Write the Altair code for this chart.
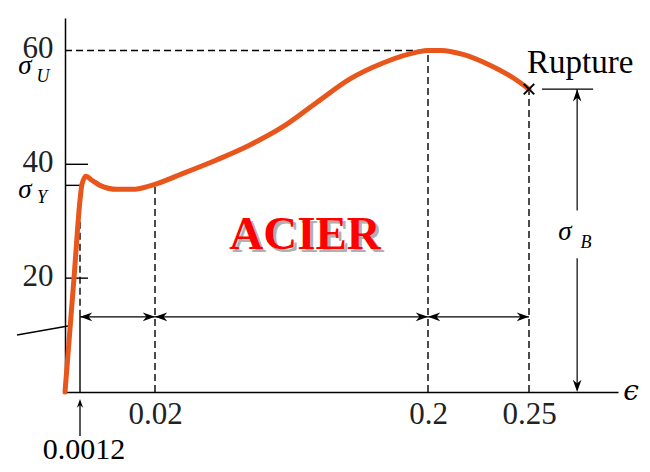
import altair as alt
import pandas as pd

# ---- data ----
strain = [0, 0.00072, 0.0012, 0.0017, 0.0027, 0.0042, 0.0062, 0.0105, 0.0145, 0.0187,
          0.0385, 0.0609, 0.0826, 0.1044, 0.1268, 0.1486, 0.1703, 0.1927, 0.2, 0.2065,
          0.2173, 0.2307, 0.2421, 0.25]
stress = [0, 20, 33.7, 36.5, 37.9, 37.2, 36.3, 35.6, 35.6, 36.2,
          38.4, 40.8, 43.4, 46.6, 50.9, 55.0, 57.8, 59.7, 60.0, 60.0,
          59.3, 57.4, 55.2, 53.2]

eps_yield = 0.0012
eps_hard = 0.02
eps_ult = 0.2
eps_rupt = 0.25
sig_yield = 36.3
sig_ult = 60.0
sig_rupt = 53.2
y_tick_values = [20, 40, 60]
x_tick_values = [0.02, 0.2, 0.25]
dim_level = 13.2
sigB_x = 0.2738

# piecewise (non-uniform) strain axis as drawn in the figure
x_dom = [0, 0.0012, 0.02, 0.2, 0.25, 0.294]
x_rng = [0, 15, 90, 363, 464, 553]
xs = alt.Scale(domain=x_dom, range=x_rng)
ys = alt.Scale(domain=[0, 65.7], nice=False, zero=False)

SERIF = "Liberation Serif"
ORANGE = "#E8561C"

curve = alt.Chart(pd.DataFrame({"e": strain, "s": stress})).mark_line(
    color=ORANGE, strokeWidth=5, interpolate="monotone", strokeCap="round", strokeJoin="round"
).encode(
    x=alt.X("e:Q", scale=xs, title=None,
            axis=alt.Axis(values=x_tick_values, format="~g", ticks=False, grid=False,
                          domainColor="black", domainWidth=1.5, labelFont=SERIF,
                          labelFontSize=31, labelColor="#222", labelPadding=7,
                          labelFlush=False, labelOverlap=False)),
    y=alt.Y("s:Q", scale=ys, title=None,
            axis=alt.Axis(values=y_tick_values, ticks=False, grid=False,
                          domainColor="black", domainWidth=1.5, labelFont=SERIF,
                          labelFontSize=31, labelColor="#222", labelPadding=12,
                          labelOffset=-2, labelBaseline="middle", labelFlush=False,
                          labelOverlap=False)),
)

dash = [7, 4]

# vertical dashed lines
vdash = alt.Chart(pd.DataFrame({
    "e": [eps_yield, eps_hard, eps_ult, eps_rupt],
    "lo": [dim_level, 0, 0, 0],
    "hi": [sig_yield, sig_yield, sig_ult, sig_rupt],
})).mark_rule(color="black", strokeWidth=1.4, strokeDash=dash).encode(
    x=alt.X("e:Q", scale=xs), y=alt.Y("lo:Q", scale=ys), y2="hi:Q")

# solid lower part of the 0.0012 line
vsolid = alt.Chart(pd.DataFrame({"e": [eps_yield], "lo": [0], "hi": [dim_level]})).mark_rule(
    color="black", strokeWidth=1.4).encode(
    x=alt.X("e:Q", scale=xs), y=alt.Y("lo:Q", scale=ys), y2="hi:Q")

# horizontal dashed line at sigma_U
hdash = alt.Chart(pd.DataFrame({"a": [0], "b": [eps_ult], "s": [sig_ult]})).mark_rule(
    color="black", strokeWidth=1.4, strokeDash=dash).encode(
    x=alt.X("a:Q", scale=xs), x2="b:Q", y=alt.Y("s:Q", scale=ys))

# inward ticks on the stress axis
ticks = alt.Chart(pd.DataFrame({
    "a": [0, 0, 0], "b": [0.0032, 0.0032, eps_yield], "s": [40, 20, sig_yield]
})).mark_rule(color="black", strokeWidth=1.4).encode(
    x=alt.X("a:Q", scale=xs), x2="b:Q", y=alt.Y("s:Q", scale=ys))

# dimension lines
dims = alt.Chart(pd.DataFrame({
    "a": [eps_yield, eps_hard, eps_ult], "b": [eps_hard, eps_ult, eps_rupt],
    "s": [dim_level] * 3})).mark_rule(color="black", strokeWidth=1.2).encode(
    x=alt.X("a:Q", scale=xs), x2="b:Q", y=alt.Y("s:Q", scale=ys))

R = "M0,0L-1,-0.35L-0.7,0L-1,0.35Z"
L = "M0,0L1,-0.35L0.7,0L1,0.35Z"
U = "M0,0L-0.35,1L0,0.7L0.35,1Z"
D = "M0,0L-0.35,-1L0,-0.7L0.35,-1Z"

heads = alt.Chart(pd.DataFrame({
    "e": [eps_yield, eps_hard, eps_hard, eps_ult, eps_ult, eps_rupt, sigB_x, sigB_x],
    "s": [dim_level] * 6 + [sig_rupt, 0],
    "shp": [L, R, L, R, L, R, U, D],
})).mark_point(filled=True, color="black", opacity=1, size=600).encode(
    x=alt.X("e:Q", scale=xs), y=alt.Y("s:Q", scale=ys), shape=alt.Shape("shp:N", scale=None))

# rupture marker, level line and sigma_B arrow
cross = alt.Chart(pd.DataFrame({"e": [eps_rupt], "s": [sig_rupt]})).mark_point(
    shape="M-1,-1L1,1M-1,1L1,-1", filled=False, color="black", strokeWidth=2, size=110, opacity=1
).encode(x=alt.X("e:Q", scale=xs), y=alt.Y("s:Q", scale=ys))

rline = alt.Chart(pd.DataFrame({"a": [0.2564], "b": [0.2817], "s": [sig_rupt]})).mark_rule(
    color="black", strokeWidth=1.3).encode(
    x=alt.X("a:Q", scale=xs), x2="b:Q", y=alt.Y("s:Q", scale=ys))

barrow = alt.Chart(pd.DataFrame({"e": [sigB_x, sigB_x], "lo": [31.9, 0.5], "hi": [sig_rupt, 23.5]})).mark_rule(
    color="black", strokeWidth=1.2).encode(
    x=alt.X("e:Q", scale=xs), y=alt.Y("lo:Q", scale=ys), y2="hi:Q")

# small arrow under 0.0012
upar = alt.Chart(pd.DataFrame({"e": [eps_yield]})).mark_rule(color="black", strokeWidth=1.3).encode(
    x=alt.X("e:Q", scale=xs), y=alt.value(384), y2=alt.value(418))
uphead = alt.Chart(pd.DataFrame({"e": [eps_yield]})).mark_point(
    shape=U, filled=True, color="black", size=300, opacity=1).encode(
    x=alt.X("e:Q", scale=xs), y=alt.value(381))

# slanted pointer at the left
pointer = alt.Chart(pd.DataFrame({"k": [0]})).mark_rule(color="black", strokeWidth=1.3).encode(
    x=alt.value(-48), x2=alt.value(3), y=alt.value(317), y2=alt.value(308))


def label(txt, x, y, size, style="normal", weight="normal", color="black",
          align="center", baseline="alphabetic", font=SERIF, dx=0, dy=0):
    return alt.Chart(pd.DataFrame({"t": [txt]})).mark_text(
        font=font, fontSize=size, fontStyle=style, fontWeight=weight, color=color,
        align=align, baseline=baseline, dx=dx, dy=dy
    ).encode(x=alt.value(x), y=alt.value(y), text="t:N")


texts = [
    label("σ", -40, 56, 27, style="italic"),
    label("U", -22, 64, 18, style="italic"),
    label("σ", -40, 180, 27, style="italic"),
    label("Y", -23, 185, 18, style="italic"),
    label("σ", 500, 222, 27, style="italic"),
    label("B", 521, 230, 18, style="italic"),
    label("Rupture", 462, 55, 33, align="left"),
    label("ϵ", 566, 382, 28, style="italic", font="DejaVu Serif"),
    label("0.0012", 19, 441, 30),
    label("ACIER", 240, 231, 47, weight="bold", color="#B0B0B0", dx=3, dy=3),
    label("ACIER", 240, 231, 47, weight="bold", color="#FF0000"),
]

chart = alt.layer(
    hdash, vdash, vsolid, ticks, dims, heads, rline, barrow, upar, uphead, pointer,
    curve, cross, *texts
).properties(
    width=553, height=374,
    autosize=alt.AutoSizeParams(type="none"),
    padding={"left": 57, "top": 10, "right": 24, "bottom": 72},
    background="white",
).configure_view(stroke=None)

chart.save("out.html", embed_options={"renderer": "svg", "actions": False})
